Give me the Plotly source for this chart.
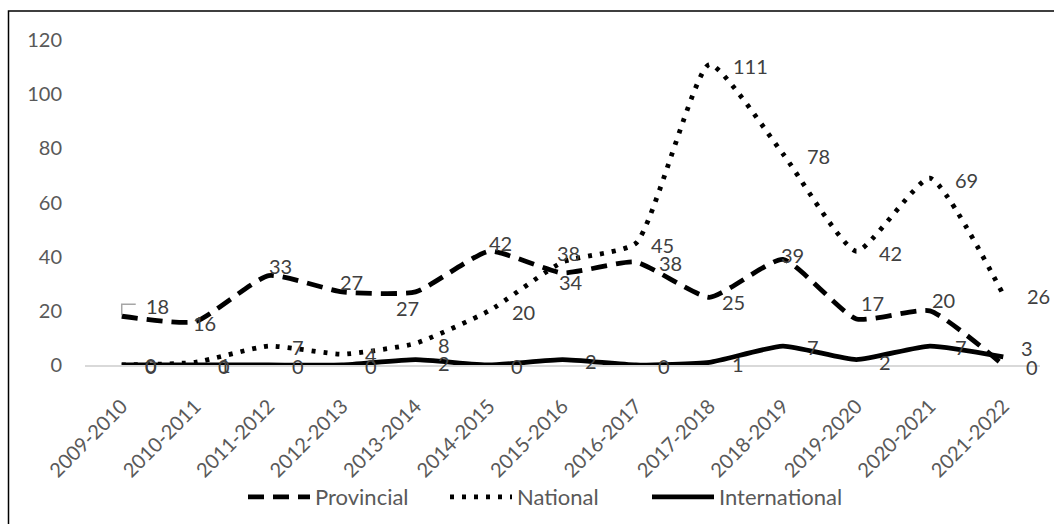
import plotly.graph_objects as go

# Academic years on the category axis
years = ["2009-2010", "2010-2011", "2011-2012", "2012-2013", "2013-2014",
         "2014-2015", "2015-2016", "2016-2017", "2017-2018", "2018-2019",
         "2019-2020", "2020-2021", "2021-2022"]

# Counts per level
provincial = [18, 16, 33, 27, 27, 42, 34, 38, 25, 39, 17, 20, 0]
national = [0, 1, 7, 4, 8, 20, 38, 45, 111, 78, 42, 69, 26]
international = [0, 0, 0, 0, 2, 0, 2, 0, 1, 7, 2, 7, 3]

y_ticks = [0, 20, 40, 60, 80, 100, 120]

# Pixel offsets of each value label from its point (right, up)
prov_dx = [36, 9, 12, 9, -8, 11, 8, 35, 24, 10, 16, 14, 29]
prov_dy = [10, -1, 10, 10, -16, 8, -9, -1, -5, 4, 16, 11, -2]
nat_dx = [29, 30, 29, 29, 28, 34, 6, 27, 41, 36, 34, 37, 35]
nat_dy = [0, -3, -1, -1, -2, -1, 9, -2, -2, -2, -2, -2, -1]
int_dx = [29, 29, 29, 29, 28, 28, 28, 28, 29, 30, 29, 31, 24]
int_dy = [-1, -1, -1, -1, -3, -1, -1, -1, -2, -1, -2, -1, 9]

FONT = "Lato"
W, H = 1054, 524
M_L, M_R, M_T, M_B = 85, 14, 40, 159
PW, PH = W - M_L - M_R, H - M_T - M_B

series = [
    ("Provincial", provincial, "16px,9px", prov_dx, prov_dy),
    ("National", national, "4px,8px", nat_dx, nat_dy),
    ("International", international, "solid", int_dx, int_dy),
]

fig = go.Figure()
annotations = []
for name, vals, dash, dxs, dys in series:
    fig.add_trace(go.Scatter(
        x=years, y=vals, name=name, mode="lines",
        line=dict(color="black", width=4.8, dash=dash,
                  shape="spline", smoothing=0.5),
        cliponaxis=False,
    ))
    for yr, v, dx, dy in zip(years, vals, dxs, dys):
        annotations.append(dict(
            x=yr, y=v, text=str(v), showarrow=False,
            xanchor="center", yanchor="middle",
            xshift=dx, yshift=dy,
            font=dict(family=FONT, size=20, color="#404040"),
        ))


def px_x(p):
    return (p - M_L) / PW


def px_y(p):
    return (H - M_B - p) / PH


shapes = [
    # outer frame of the chart
    dict(type="rect", xref="paper", yref="paper",
         x0=px_x(8.5), x1=px_x(1080), y0=px_y(560), y1=px_y(11),
         line=dict(color="black", width=1.5), fillcolor="rgba(0,0,0,0)",
         layer="below"),
    # leader line for the first Provincial label
    dict(type="path", xref="x", yref="y",
         xsizemode="pixel", ysizemode="pixel",
         xanchor=years[0], yanchor=provincial[0],
         path="M 0,1 L 0,12 L 14,12",
         fillcolor="rgba(0,0,0,0)",
         line=dict(color="#A6A6A6", width=1.5)),
]

fig.update_layout(
    width=W, height=H,
    margin=dict(l=M_L, r=M_R, t=M_T, b=M_B, autoexpand=False),
    paper_bgcolor="white", plot_bgcolor="white",
    font=dict(family=FONT, size=20, color="#595959"),
    showlegend=True,
    legend=dict(orientation="h", x=px_x(243), xanchor="left",
                y=px_y(497), yanchor="middle",
                font=dict(family=FONT, size=22, color="#595959"),
                itemwidth=62, entrywidth=125, entrywidthmode="pixels",
                tracegroupgap=0, bgcolor="rgba(0,0,0,0)"),
    annotations=annotations,
    shapes=shapes,
    xaxis=dict(
        type="category", range=[-0.5, len(years) - 0.5],
        showgrid=False, zeroline=False,
        showline=True, linecolor="#D9D9D9", linewidth=1.5,
        ticks="", tickangle=-45, ticklabelstandoff=20,
        tickfont=dict(family=FONT, size=20, color="#595959"),
    ),
    yaxis=dict(
        range=[0, 120], tickvals=y_ticks,
        showgrid=False, zeroline=False, showline=False,
        ticks="", ticklabelstandoff=22,
        tickfont=dict(family=FONT, size=20, color="#595959"),
    ),
)

fig.write_html("out.html")
